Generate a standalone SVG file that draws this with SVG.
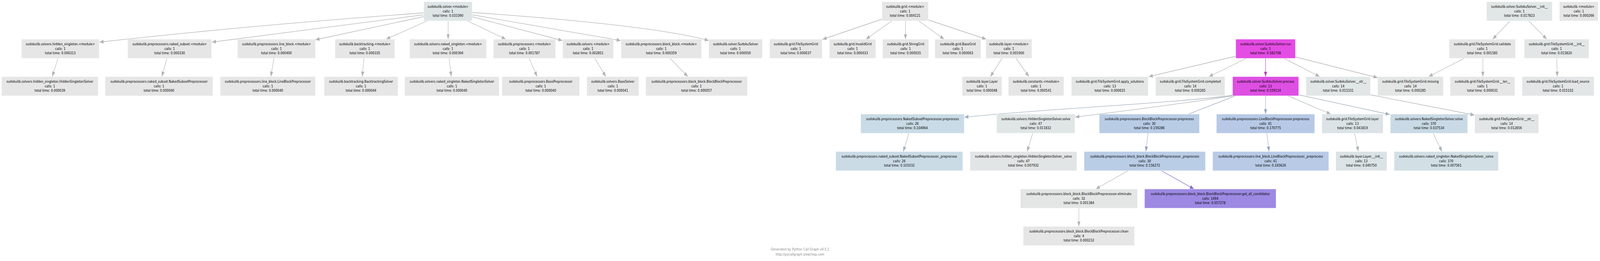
<svg xmlns="http://www.w3.org/2000/svg" width="5052" height="669" viewBox="0 0 5052 669" preserveAspectRatio="none">
<style>
svg:root{width:100vw;height:100vh;display:block}
.n rect{fill:#e6e6e6;stroke:#ffffff;stroke-opacity:0.45;stroke-width:1.3}
.n text{font-family:"DejaVu Sans","Verdana",sans-serif;font-size:9.4px;fill:#000;text-anchor:middle}
.e path{fill:none;stroke-width:1.3}
.g{stroke:#b3b3b3}.m{stroke:#b23fb8}.p{stroke:#7f6cc4}.b{stroke:#97a5bb}.c{stroke:#a2b0bb}.s{stroke:#adb3b5}
.foot{font-family:"DejaVu Sans","Verdana",sans-serif;font-size:9.4px;fill:#8c8c8c;text-anchor:middle}
</style>
<defs>
<marker id="ag" viewBox="0 0 13 10" refX="13" refY="5" markerWidth="13" markerHeight="10" markerUnits="userSpaceOnUse" orient="auto"><path d="M0,0L13,5L0,10z" fill="#b3b3b3"/></marker>
<marker id="am" viewBox="0 0 13 10" refX="13" refY="5" markerWidth="13" markerHeight="10" markerUnits="userSpaceOnUse" orient="auto"><path d="M0,0L13,5L0,10z" fill="#b23fb8"/></marker>
<marker id="ap" viewBox="0 0 13 10" refX="13" refY="5" markerWidth="13" markerHeight="10" markerUnits="userSpaceOnUse" orient="auto"><path d="M0,0L13,5L0,10z" fill="#7f6cc4"/></marker>
<marker id="ab" viewBox="0 0 13 10" refX="13" refY="5" markerWidth="13" markerHeight="10" markerUnits="userSpaceOnUse" orient="auto"><path d="M0,0L13,5L0,10z" fill="#97a5bb"/></marker>
<marker id="ac" viewBox="0 0 13 10" refX="13" refY="5" markerWidth="13" markerHeight="10" markerUnits="userSpaceOnUse" orient="auto"><path d="M0,0L13,5L0,10z" fill="#a2b0bb"/></marker>
<marker id="as" viewBox="0 0 13 10" refX="13" refY="5" markerWidth="13" markerHeight="10" markerUnits="userSpaceOnUse" orient="auto"><path d="M0,0L13,5L0,10z" fill="#adb3b5"/></marker>
</defs>
<rect width="5052" height="669" fill="#ffffff"/>

<g id="connectors" class="e">
<path class="g" marker-end="url(#ag)" d="M1337,33Q776,66 314,108"/>
<path class="g" marker-end="url(#ag)" d="M1337,38L669,108"/>
<path class="g" marker-end="url(#ag)" d="M1341,42L996,102"/>
<path class="g" marker-end="url(#ag)" d="M1349,53.5L1219,100.5"/>
<path class="g" marker-end="url(#ag)" d="M1415,53.5L1415,100.5"/>
<path class="g" marker-end="url(#ag)" d="M1476,53.5L1597,100.5"/>
<path class="g" marker-end="url(#ag)" d="M1491,43L1776,104"/>
<path class="g" marker-end="url(#ag)" d="M1491,38L1960,104"/>
<path class="g" marker-end="url(#ag)" d="M1491,32Q2058,64 2238,104"/>
<path class="g" marker-end="url(#ag)" d="M2785,49L2597,101"/>
<path class="g" marker-end="url(#ag)" d="M2816,53.5L2734,100.5"/>
<path class="g" marker-end="url(#ag)" d="M2859,53.5L2859,100.5"/>
<path class="g" marker-end="url(#ag)" d="M2901,53.5L2981,100.5"/>
<path class="g" marker-end="url(#ag)" d="M2931,51L3114,100.5"/>
<path class="g" marker-end="url(#ag)" d="M3164,149.5L3127,196.5"/>
<path class="g" marker-end="url(#ag)" d="M3208,149.5L3249,196.5"/>
<path class="g" marker-end="url(#ag)" d="M183,149.5L165,196.5"/>
<path class="g" marker-end="url(#ag)" d="M527,149.5L511,196.5"/>
<path class="g" marker-end="url(#ag)" d="M865,149.5L855,196.5"/>
<path class="g" marker-end="url(#ag)" d="M1149,149.5L1144,196.5"/>
<path class="g" marker-end="url(#ag)" d="M1418,149.5L1425,196.5"/>
<path class="g" marker-end="url(#ag)" d="M1671,149.5L1696,196.5"/>
<path class="g" marker-end="url(#ag)" d="M1878,149.5L1913,196.5"/>
<path class="g" marker-end="url(#ag)" d="M2116,149.5L2172,196.5"/>
<path class="g" marker-end="url(#ag)" d="M3902,144L3627,196.5"/>
<path class="g" marker-end="url(#ag)" d="M3936,149.5L3817,196.5"/>
<path class="m" marker-end="url(#am)" d="M3996,149.5L3996,196.5"/>
<path class="g" marker-end="url(#ag)" d="M4054,149.5L4167,196.5"/>
<path class="g" marker-end="url(#ag)" d="M4090,146L4350,199"/>
<path class="g" marker-end="url(#ag)" d="M4768,53.5L4713,100.5"/>
<path class="g" marker-end="url(#ag)" d="M4827,53.5L4884,100.5"/>
<path class="g" marker-end="url(#ag)" d="M4623,149.5L4511,196.5"/>
<path class="g" marker-end="url(#ag)" d="M4682,149.5L4682,196.5"/>
<path class="g" marker-end="url(#ag)" d="M4915,149.5L4917,196.5"/>
<path class="c" marker-end="url(#ac)" d="M3892,244C3750,262 3250,282 3045,300.5"/>
<path class="s" marker-end="url(#as)" d="M3892,246Q3650,275 3395,300"/>
<path class="b" marker-end="url(#ab)" d="M3901,245.5L3729,300"/>
<path class="b" marker-end="url(#ab)" d="M3996,245.5L3996,292.5"/>
<path class="s" marker-end="url(#as)" d="M4066,245.5L4202,292.5"/>
<path class="c" marker-end="url(#ac)" d="M4100.5,243L4388,293.5"/>
<path class="s" marker-end="url(#as)" d="M4327,243L4656,295"/>
<path class="c" marker-end="url(#ac)" d="M2870,341.5L2852,388.5"/>
<path class="s" marker-end="url(#as)" d="M3261,341.5L3243,388.5"/>
<path class="b" marker-end="url(#ab)" d="M3625,341.5L3618,388.5"/>
<path class="b" marker-end="url(#ab)" d="M4000,341.5L4007,388.5"/>
<path class="s" marker-end="url(#as)" d="M4277,341.5L4289,388.5"/>
<path class="c" marker-end="url(#ac)" d="M4525,341.5L4553,388.5"/>
<path class="g" marker-end="url(#ag)" d="M3562,437.5L3460,484.5"/>
<path class="p" marker-end="url(#ap)" d="M3667,437.5L3770,484.5"/>
<path class="g" marker-end="url(#ag)" d="M3406.5,533.5L3406.5,580.5"/>
</g>

<g id="solver_module" class="n"><rect x="1338" y="4.5" width="153" height="49" style="fill:#dee5e6"/><text x="1414.5" y="20.1"><tspan x="1414.5">sudokulib.solver.&lt;module&gt;</tspan><tspan x="1414.5" dy="11.7">calls: 1</tspan><tspan x="1414.5" dy="11.7">total time: 0.033390</tspan></text></g>
<g id="grid_module" class="n"><rect x="2785" y="4.5" width="146" height="49"/><text x="2858" y="20.1"><tspan x="2858">sudokulib.grid.&lt;module&gt;</tspan><tspan x="2858" dy="11.7">calls: 1</tspan><tspan x="2858" dy="11.7">total time: 0.004121</tspan></text></g>
<g id="solver_init" class="n"><rect x="4694" y="4.5" width="207" height="49" style="fill:#e1e6e6"/><text x="4797.5" y="20.1"><tspan x="4797.5">sudokulib.solver.SudokuSolver.__init__</tspan><tspan x="4797.5" dy="11.7">calls: 1</tspan><tspan x="4797.5" dy="11.7">total time: 0.017823</tspan></text></g>
<g id="sudokulib_module" class="n"><rect x="4924" y="4.5" width="122" height="49"/><text x="4985" y="20.1"><tspan x="4985">sudokulib.&lt;module&gt;</tspan><tspan x="4985" dy="11.7">calls: 1</tspan><tspan x="4985" dy="11.7">total time: 0.000266</tspan></text></g>

<g id="hidden_singleton_module" class="n"><rect x="68" y="100.5" width="245" height="49"/><text x="190.5" y="116.1"><tspan x="190.5">sudokulib.solvers.hidden_singleton.&lt;module&gt;</tspan><tspan x="190.5" dy="11.7">calls: 1</tspan><tspan x="190.5" dy="11.7">total time: 0.000313</tspan></text></g>
<g id="naked_subset_module" class="n"><rect x="403" y="100.5" width="265" height="49"/><text x="535.5" y="116.1"><tspan x="535.5">sudokulib.preprocessors.naked_subset.&lt;module&gt;</tspan><tspan x="535.5" dy="11.7">calls: 1</tspan><tspan x="535.5" dy="11.7">total time: 0.000330</tspan></text></g>
<g id="line_block_module" class="n"><rect x="750" y="100.5" width="246" height="49"/><text x="873" y="116.1"><tspan x="873">sudokulib.preprocessors.line_block.&lt;module&gt;</tspan><tspan x="873" dy="11.7">calls: 1</tspan><tspan x="873" dy="11.7">total time: 0.000400</tspan></text></g>
<g id="backtracking_module" class="n"><rect x="1058" y="100.5" width="188" height="49"/><text x="1152" y="116.1"><tspan x="1152">sudokulib.backtracking.&lt;module&gt;</tspan><tspan x="1152" dy="11.7">calls: 1</tspan><tspan x="1152" dy="11.7">total time: 0.000335</tspan></text></g>
<g id="naked_singleton_module" class="n"><rect x="1293.5" y="100.5" width="242.5" height="49"/><text x="1414.7" y="116.1"><tspan x="1414.7">sudokulib.solvers.naked_singleton.&lt;module&gt;</tspan><tspan x="1414.7" dy="11.7">calls: 1</tspan><tspan x="1414.7" dy="11.7">total time: 0.000394</tspan></text></g>
<g id="preprocessors_module" class="n"><rect x="1558" y="100.5" width="196" height="49"/><text x="1656" y="116.1"><tspan x="1656">sudokulib.preprocessors.&lt;module&gt;</tspan><tspan x="1656" dy="11.7">calls: 1</tspan><tspan x="1656" dy="11.7">total time: 0.001787</tspan></text></g>
<g id="solvers_module" class="n"><rect x="1777" y="100.5" width="160" height="49"/><text x="1857" y="116.1"><tspan x="1857">sudokulib.solvers.&lt;module&gt;</tspan><tspan x="1857" dy="11.7">calls: 1</tspan><tspan x="1857" dy="11.7">total time: 0.002851</tspan></text></g>
<g id="block_block_module" class="n"><rect x="1961" y="100.5" width="254" height="49"/><text x="2088" y="116.1"><tspan x="2088">sudokulib.preprocessors.block_block.&lt;module&gt;</tspan><tspan x="2088" dy="11.7">calls: 1</tspan><tspan x="2088" dy="11.7">total time: 0.000359</tspan></text></g>
<g id="SudokuSolver" class="n"><rect x="2238" y="100.5" width="169" height="49"/><text x="2322.5" y="116.1"><tspan x="2322.5">sudokulib.solver.SudokuSolver</tspan><tspan x="2322.5" dy="11.7">calls: 1</tspan><tspan x="2322.5" dy="11.7">total time: 0.000050</tspan></text></g>
<g id="FileSystemGrid" class="n"><rect x="2430" y="100.5" width="166" height="49"/><text x="2513" y="116.1"><tspan x="2513">sudokulib.grid.FileSystemGrid</tspan><tspan x="2513" dy="11.7">calls: 1</tspan><tspan x="2513" dy="11.7">total time: 0.000037</tspan></text></g>
<g id="InvalidGrid" class="n"><rect x="2619" y="100.5" width="146" height="49"/><text x="2692" y="116.1"><tspan x="2692">sudokulib.grid.InvalidGrid</tspan><tspan x="2692" dy="11.7">calls: 1</tspan><tspan x="2692" dy="11.7">total time: 0.000033</tspan></text></g>
<g id="StringGrid" class="n"><rect x="2787" y="100.5" width="145" height="49"/><text x="2859.5" y="116.1"><tspan x="2859.5">sudokulib.grid.StringGrid</tspan><tspan x="2859.5" dy="11.7">calls: 1</tspan><tspan x="2859.5" dy="11.7">total time: 0.000035</tspan></text></g>
<g id="BaseGrid" class="n"><rect x="2952" y="100.5" width="145" height="49"/><text x="3024.5" y="116.1"><tspan x="3024.5">sudokulib.grid.BaseGrid</tspan><tspan x="3024.5" dy="11.7">calls: 1</tspan><tspan x="3024.5" dy="11.7">total time: 0.000063</tspan></text></g>
<g id="layer_module" class="n"><rect x="3113" y="100.5" width="145" height="49"/><text x="3185.5" y="116.1"><tspan x="3185.5">sudokulib.layer.&lt;module&gt;</tspan><tspan x="3185.5" dy="11.7">calls: 1</tspan><tspan x="3185.5" dy="11.7">total time: 0.001900</tspan></text></g>
<g id="run" class="n"><rect x="3902" y="100.5" width="188" height="49" style="fill:#e44ce4"/><text x="3996" y="116.1"><tspan x="3996">sudokulib.solver.SudokuSolver.run</tspan><tspan x="3996" dy="11.7">calls: 1</tspan><tspan x="3996" dy="11.7">total time: 0.582708</tspan></text></g>
<g id="validate" class="n"><rect x="4576" y="100.5" width="209" height="49"/><text x="4680.5" y="116.1"><tspan x="4680.5">sudokulib.grid.FileSystemGrid.validate</tspan><tspan x="4680.5" dy="11.7">calls: 1</tspan><tspan x="4680.5" dy="11.7">total time: 0.001585</tspan></text></g>
<g id="fsg_init" class="n"><rect x="4813" y="100.5" width="204" height="49" style="fill:#e2e6e6"/><text x="4915" y="116.1"><tspan x="4915">sudokulib.grid.FileSystemGrid.__init__</tspan><tspan x="4915" dy="11.7">calls: 1</tspan><tspan x="4915" dy="11.7">total time: 0.015820</tspan></text></g>

<g id="HiddenSingletonSolver" class="n"><rect x="5" y="196.5" width="305" height="49"/><text x="157.5" y="212.1"><tspan x="157.5">sudokulib.solvers.hidden_singleton.HiddenSingletonSolver</tspan><tspan x="157.5" dy="11.7">calls: 1</tspan><tspan x="157.5" dy="11.7">total time: 0.000039</tspan></text></g>
<g id="NakedSubsetPreprocessor" class="n"><rect x="332" y="196.5" width="340" height="49"/><text x="502" y="212.1"><tspan x="502">sudokulib.preprocessors.naked_subset.NakedSubsetPreprocessor</tspan><tspan x="502" dy="11.7">calls: 1</tspan><tspan x="502" dy="11.7">total time: 0.000040</tspan></text></g>
<g id="LineBlockPreprocessor" class="n"><rect x="695.5" y="196.5" width="300.5" height="49"/><text x="845.7" y="212.1"><tspan x="845.7">sudokulib.preprocessors.line_block.LineBlockPreprocessor</tspan><tspan x="845.7" dy="11.7">calls: 1</tspan><tspan x="845.7" dy="11.7">total time: 0.000040</tspan></text></g>
<g id="BacktrackingSolver" class="n"><rect x="1023.5" y="196.5" width="233" height="49"/><text x="1140" y="212.1"><tspan x="1140">sudokulib.backtracking.BacktrackingSolver</tspan><tspan x="1140" dy="11.7">calls: 1</tspan><tspan x="1140" dy="11.7">total time: 0.000044</tspan></text></g>
<g id="NakedSingletonSolver" class="n"><rect x="1278" y="196.5" width="298" height="49"/><text x="1427" y="212.1"><tspan x="1427">sudokulib.solvers.naked_singleton.NakedSingletonSolver</tspan><tspan x="1427" dy="11.7">calls: 1</tspan><tspan x="1427" dy="11.7">total time: 0.000040</tspan></text></g>
<g id="BasePreprocessor" class="n"><rect x="1585" y="196.5" width="245" height="49"/><text x="1707.5" y="212.1"><tspan x="1707.5">sudokulib.preprocessors.BasePreprocessor</tspan><tspan x="1707.5" dy="11.7">calls: 1</tspan><tspan x="1707.5" dy="11.7">total time: 0.000040</tspan></text></g>
<g id="BaseSolver" class="n"><rect x="1853" y="196.5" width="164" height="49"/><text x="1935" y="212.1"><tspan x="1935">sudokulib.solvers.BaseSolver</tspan><tspan x="1935" dy="11.7">calls: 1</tspan><tspan x="1935" dy="11.7">total time: 0.000041</tspan></text></g>
<g id="BlockBlockPreprocessor" class="n"><rect x="2039" y="196.5" width="321" height="49"/><text x="2199.5" y="212.1"><tspan x="2199.5">sudokulib.preprocessors.block_block.BlockBlockPreprocessor</tspan><tspan x="2199.5" dy="11.7">calls: 1</tspan><tspan x="2199.5" dy="11.7">total time: 0.000057</tspan></text></g>
<g id="Layer" class="n"><rect x="3038" y="196.5" width="125" height="49"/><text x="3100.5" y="212.1"><tspan x="3100.5">sudokulib.layer.Layer</tspan><tspan x="3100.5" dy="11.7">calls: 1</tspan><tspan x="3100.5" dy="11.7">total time: 0.000048</tspan></text></g>
<g id="constants_module" class="n"><rect x="3184" y="196.5" width="175" height="49"/><text x="3271.5" y="212.1"><tspan x="3271.5">sudokulib.constants.&lt;module&gt;</tspan><tspan x="3271.5" dy="11.7">calls: 1</tspan><tspan x="3271.5" dy="11.7">total time: 0.000541</tspan></text></g>
<g id="apply_solutions" class="n"><rect x="3383" y="196.5" width="242.5" height="49" style="fill:#e4e6e6"/><text x="3504.2" y="212.1"><tspan x="3504.2">sudokulib.grid.FileSystemGrid.apply_solutions</tspan><tspan x="3504.2" dy="11.7">calls: 13</tspan><tspan x="3504.2" dy="11.7">total time: 0.000635</tspan></text></g>
<g id="completed" class="n"><rect x="3649" y="196.5" width="218.5" height="49" style="fill:#e4e6e6"/><text x="3758.2" y="212.1"><tspan x="3758.2">sudokulib.grid.FileSystemGrid.completed</tspan><tspan x="3758.2" dy="11.7">calls: 14</tspan><tspan x="3758.2" dy="11.7">total time: 0.000265</tspan></text></g>
<g id="process" class="n"><rect x="3892" y="196.5" width="208.5" height="49" style="fill:#de4fe3"/><text x="3996.2" y="212.1"><tspan x="3996.2">sudokulib.solver.SudokuSolver.process</tspan><tspan x="3996.2" dy="11.7">calls: 13</tspan><tspan x="3996.2" dy="11.7">total time: 0.559124</tspan></text></g>
<g id="solver_str" class="n"><rect x="4124" y="196.5" width="203" height="49" style="fill:#e1e6e6"/><text x="4225.5" y="212.1"><tspan x="4225.5">sudokulib.solver.SudokuSolver.__str__</tspan><tspan x="4225.5" dy="11.7">calls: 14</tspan><tspan x="4225.5" dy="11.7">total time: 0.015331</tspan></text></g>
<g id="missing" class="n"><rect x="4350" y="196.5" width="207" height="49" style="fill:#e4e6e6"/><text x="4453.5" y="212.1"><tspan x="4453.5">sudokulib.grid.FileSystemGrid.missing</tspan><tspan x="4453.5" dy="11.7">calls: 14</tspan><tspan x="4453.5" dy="11.7">total time: 0.000285</tspan></text></g>
<g id="fsg_len" class="n"><rect x="4579" y="196.5" width="204" height="49"/><text x="4681" y="212.1"><tspan x="4681">sudokulib.grid.FileSystemGrid.__len__</tspan><tspan x="4681" dy="11.7">calls: 1</tspan><tspan x="4681" dy="11.7">total time: 0.000031</tspan></text></g>
<g id="load_source" class="n"><rect x="4806" y="196.5" width="227" height="49" style="fill:#e2e6e6"/><text x="4919.5" y="212.1"><tspan x="4919.5">sudokulib.grid.FileSystemGrid.load_source</tspan><tspan x="4919.5" dy="11.7">calls: 1</tspan><tspan x="4919.5" dy="11.7">total time: 0.015102</tspan></text></g>

<g id="nsp_preprocess" class="n"><rect x="2718" y="292.5" width="326.5" height="49" style="fill:#c9dbe6"/><text x="2881.2" y="308.1"><tspan x="2881.2">sudokulib.preprocessors.NakedSubsetPreprocessor.preprocess</tspan><tspan x="2881.2" dy="11.7">calls: 26</tspan><tspan x="2881.2" dy="11.7">total time: 0.104964</tspan></text></g>
<g id="hss_solve" class="n"><rect x="3147" y="292.5" width="247" height="49" style="fill:#e0e5e6"/><text x="3270.5" y="308.1"><tspan x="3270.5">sudokulib.solvers.HiddenSingletonSolver.solve</tspan><tspan x="3270.5" dy="11.7">calls: 47</tspan><tspan x="3270.5" dy="11.7">total time: 0.011832</tspan></text></g>
<g id="bbp_preprocess" class="n"><rect x="3471" y="292.5" width="316" height="49" style="fill:#b9cce6"/><text x="3629" y="308.1"><tspan x="3629">sudokulib.preprocessors.BlockBlockPreprocessor.preprocess</tspan><tspan x="3629" dy="11.7">calls: 30</tspan><tspan x="3629" dy="11.7">total time: 0.159286</tspan></text></g>
<g id="lbp_preprocess" class="n"><rect x="3841" y="292.5" width="310" height="49" style="fill:#b7c9e6"/><text x="3996" y="308.1"><tspan x="3996">sudokulib.preprocessors.LineBlockPreprocessor.preprocess</tspan><tspan x="3996" dy="11.7">calls: 41</tspan><tspan x="3996" dy="11.7">total time: 0.170775</tspan></text></g>
<g id="fsg_layer" class="n"><rect x="4174" y="292.5" width="193" height="49" style="fill:#dbe3e6"/><text x="4270.5" y="308.1"><tspan x="4270.5">sudokulib.grid.FileSystemGrid.layer</tspan><tspan x="4270.5" dy="11.7">calls: 13</tspan><tspan x="4270.5" dy="11.7">total time: 0.041819</tspan></text></g>
<g id="nss_solve" class="n"><rect x="4390" y="292.5" width="244" height="49" style="fill:#c9dae6"/><text x="4512" y="308.1"><tspan x="4512">sudokulib.solvers.NakedSingletonSolver.solve</tspan><tspan x="4512" dy="11.7">calls: 370</tspan><tspan x="4512" dy="11.7">total time: 0.037534</tspan></text></g>
<g id="fsg_str" class="n"><rect x="4656.5" y="292.5" width="201.5" height="49" style="fill:#e2e6e6"/><text x="4757.2" y="308.1"><tspan x="4757.2">sudokulib.grid.FileSystemGrid.__str__</tspan><tspan x="4757.2" dy="11.7">calls: 14</tspan><tspan x="4757.2" dy="11.7">total time: 0.012856</tspan></text></g>

<g id="nsp_private" class="n"><rect x="2639" y="388.5" width="401" height="49" style="fill:#cadbe6"/><text x="2839.5" y="404.1"><tspan x="2839.5">sudokulib.preprocessors.naked_subset.NakedSubsetPreprocessor._preprocess</tspan><tspan x="2839.5" dy="11.7">calls: 26</tspan><tspan x="2839.5" dy="11.7">total time: 0.101032</tspan></text></g>
<g id="hss_private" class="n"><rect x="3063" y="388.5" width="337" height="49" style="fill:#e2e5e6"/><text x="3231.5" y="404.1"><tspan x="3231.5">sudokulib.solvers.hidden_singleton.HiddenSingletonSolver._solve</tspan><tspan x="3231.5" dy="11.7">calls: 47</tspan><tspan x="3231.5" dy="11.7">total time: 0.007932</tspan></text></g>
<g id="bbp_private" class="n"><rect x="3423" y="388.5" width="383" height="49" style="fill:#bacde6"/><text x="3614.5" y="404.1"><tspan x="3614.5">sudokulib.preprocessors.block_block.BlockBlockPreprocessor._preprocess</tspan><tspan x="3614.5" dy="11.7">calls: 30</tspan><tspan x="3614.5" dy="11.7">total time: 0.156272</tspan></text></g>
<g id="lbp_private" class="n"><rect x="3829" y="388.5" width="366.5" height="49" style="fill:#b8cae6"/><text x="4012.2" y="404.1"><tspan x="4012.2">sudokulib.preprocessors.line_block.LineBlockPreprocessor._preprocess</tspan><tspan x="4012.2" dy="11.7">calls: 41</tspan><tspan x="4012.2" dy="11.7">total time: 0.165626</tspan></text></g>
<g id="layer_init" class="n"><rect x="4218" y="388.5" width="161" height="49" style="fill:#dbe3e6"/><text x="4298.5" y="404.1"><tspan x="4298.5">sudokulib.layer.Layer.__init__</tspan><tspan x="4298.5" dy="11.7">calls: 13</tspan><tspan x="4298.5" dy="11.7">total time: 0.040750</tspan></text></g>
<g id="nss_private" class="n"><rect x="4402" y="388.5" width="329" height="49" style="fill:#d2e0e6"/><text x="4566.5" y="404.1"><tspan x="4566.5">sudokulib.solvers.naked_singleton.NakedSingletonSolver._solve</tspan><tspan x="4566.5" dy="11.7">calls: 370</tspan><tspan x="4566.5" dy="11.7">total time: 0.007561</tspan></text></g>

<g id="eliminate" class="n"><rect x="3222" y="484.5" width="369.5" height="49" style="fill:#e4e6e6"/><text x="3406.7" y="500.1"><tspan x="3406.7">sudokulib.preprocessors.block_block.BlockBlockPreprocessor.eliminate</tspan><tspan x="3406.7" dy="11.7">calls: 32</tspan><tspan x="3406.7" dy="11.7">total time: 0.001384</tspan></text></g>
<g id="get_all_candidates" class="n"><rect x="3614" y="484.5" width="415" height="49" style="fill:#9d89e3"/><text x="3821.5" y="500.1"><tspan x="3821.5">sudokulib.preprocessors.block_block.BlockBlockPreprocessor.get_all_candidates</tspan><tspan x="3821.5" dy="11.7">calls: 1494</tspan><tspan x="3821.5" dy="11.7">total time: 0.057278</tspan></text></g>

<g id="clean" class="n"><rect x="3231" y="580.5" width="351" height="49"/><text x="3406.5" y="596.1"><tspan x="3406.5">sudokulib.preprocessors.block_block.BlockBlockPreprocessor.clean</tspan><tspan x="3406.5" dy="11.7">calls: 4</tspan><tspan x="3406.5" dy="11.7">total time: 0.000232</tspan></text></g>

<g id="footer"><text class="foot" x="2526" y="642.5">Generated by Python Call Graph v0.5.1</text><text class="foot" x="2526" y="655">http://pycallgraph.slowchop.com</text></g>
</svg>
